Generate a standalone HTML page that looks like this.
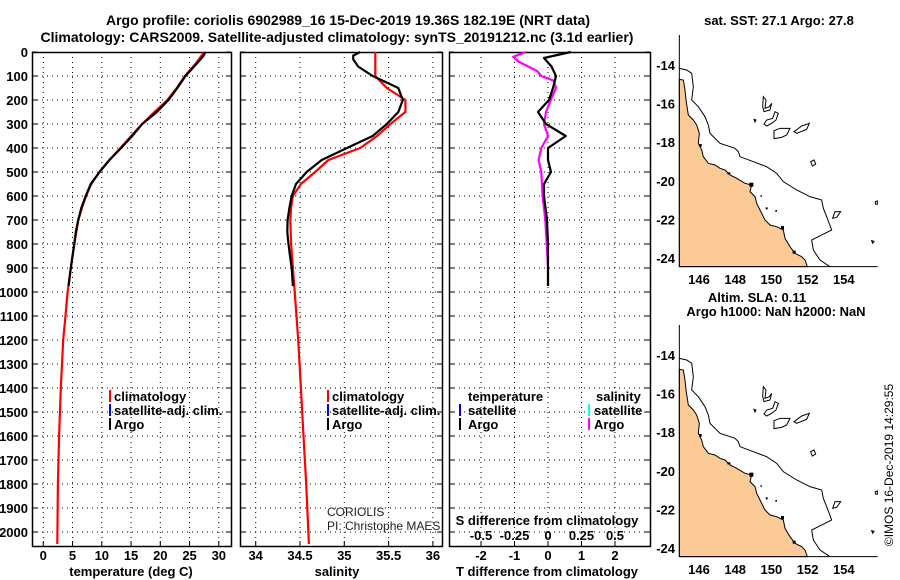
<!DOCTYPE html>
<html><head><meta charset="utf-8">
<style>
body{margin:0;background:#fff;}
svg{display:block;font-family:"Liberation Sans",sans-serif;}
.b{font-weight:bold;font-size:13px;}
.t{font-weight:bold;font-size:14px;}
</style></head><body>
<svg id="fig" width="900" height="580" viewBox="0 0 900 580" xmlns="http://www.w3.org/2000/svg">
<defs>
<g id="mapbase">
<polygon fill="#fcca96" stroke="#000" stroke-width="3" points="88,238 100,240 105,270 108,300 115,345 130,360 140,375 148,400 145,430 155,450 160,470 175,490 195,495 210,505 225,510 240,525 260,535 285,550 305,555 300,575 315,590 320,610 330,630 345,660 360,675 380,680 400,690 405,715 420,740 435,760 455,770 465,780 472,800 88,800"/>
<polyline fill="none" stroke="#000" stroke-width="3" points="88,205 110,210 125,220 130,260 125,300 145,320 165,350 175,375 180,400 210,430 255,445 265,455 270,470 310,485 350,500 380,520 400,545 440,570 480,590 515,600 520,625 530,650 545,690 525,700 485,720 490,750 510,780 540,800"/>
<g fill="none" stroke="#000" stroke-width="3">
<path d="M340,290 L348,300 L345,325 L358,320 L365,310 L360,330 L342,335 L338,320Z"/>
<path d="M375,335 L385,340 L378,360 L365,370 L350,378 L342,372 L350,360 L368,355Z"/>
<path d="M372,392 L390,385 L420,385 L410,405 L395,412 L372,416Z"/>
<path d="M432,395 L455,378 L478,370 L470,388 L440,400Z"/>
<path d="M482,485 L492,480 L497,492 L487,498Z"/>
<path d="M548,655 L555,635 L572,635 L560,652Z"/>
<path d="M676,605 L682,603 L682,613 L676,612Z"/>
<path d="M665,722 L672,724 L668,730Z"/>
<path d="M312,358 L318,360 L315,366Z"/>
</g>
<g fill="#000"><rect x="148" y="432" width="7" height="8"/><rect x="232" y="517" width="9" height="6"/><rect x="298" y="548" width="12" height="12"/><rect x="393" y="678" width="9" height="10"/><rect x="428" y="752" width="9" height="9"/><rect x="347" y="622" width="6" height="6"/><rect x="376" y="630" width="5" height="5"/><rect x="331" y="586" width="5" height="4"/></g>
<polyline fill="none" stroke="#000" stroke-width="3" points="88,800 683,800"/>
<polyline fill="none" stroke="#000" stroke-width="3" points="88,105 88,800"/>
</g>
</defs>

<text class="t" x="348" y="25" text-anchor="middle">Argo profile: coriolis 6902989_16 15-Dec-2019 19.36S 182.19E (NRT data)</text>
<text class="t" x="337" y="42" text-anchor="middle">Climatology: CARS2009. Satellite-adjusted climatology: synTS_20191212.nc (3.1d earlier)</text>

<g id="frames"></g>
<g id="lines"></g>

<g class="b">
<rect x="109" y="390" width="2" height="12" fill="#f00"/><text x="114" y="401">climatology</text>
<rect x="109" y="404" width="2" height="12" fill="#00f"/><text x="114" y="415">satellite-adj. clim.</text>
<rect x="109" y="418" width="2" height="12" fill="#000"/><text x="114" y="429">Argo</text>
</g>
<g class="b">
<rect x="327" y="390" width="2" height="12" fill="#f00"/><text x="332" y="401">climatology</text>
<rect x="327" y="404" width="2" height="12" fill="#00f"/><text x="332" y="415">satellite-adj. clim.</text>
<rect x="327" y="418" width="2" height="12" fill="#000"/><text x="332" y="429">Argo</text>
</g>
<g class="b">
<text x="468" y="401">temperature</text><text x="596" y="401">salinity</text>
<rect x="459" y="404" width="2" height="12" fill="#00f"/><text x="468" y="415">satellite</text>
<rect x="588" y="404" width="2" height="12" fill="#0ff"/><text x="594" y="415">satellite</text>
<rect x="459" y="418" width="2" height="12" fill="#000"/><text x="468" y="429">Argo</text>
<rect x="588" y="418" width="2" height="12" fill="#f0f"/><text x="594" y="429">Argo</text>
</g>
<text x="327" y="516" font-size="12" fill="#222">CORIOLIS</text>
<text x="327" y="530" font-size="12" fill="#222">PI: Christophe MAES</text>
<text class="b" x="547" y="525" text-anchor="middle">S difference from climatology</text>

<text class="b" x="131" y="576" text-anchor="middle">temperature (deg C)</text>
<text class="b" x="337" y="576" text-anchor="middle">salinity</text>
<text class="b" x="547" y="576" text-anchor="middle">T difference from climatology</text>

<text class="b" x="779" y="25" text-anchor="middle">sat. SST: 27.1 Argo: 27.8</text>
<g transform="translate(650,0) scale(0.33333)"><use href="#mapbase"/></g>
<text class="b" x="757" y="302" text-anchor="middle">Altim. SLA: 0.11</text>
<text class="b" x="776" y="316" text-anchor="middle">Argo h1000: NaN h2000: NaN</text>
<g transform="translate(650,290) scale(0.33333)"><use href="#mapbase"/></g>
<g id="maplabels" class="b"></g>
<text x="893" y="465" font-size="12" fill="#000" text-anchor="middle" transform="rotate(-90 893 465)">©IMOS 16-Dec-2019 14:29:55</text>
</svg>

<script>
// ---- data ----
const depthTicks=[0,100,200,300,400,500,600,700,800,900,1000,1100,1200,1300,1400,1500,1600,1700,1800,1900,2000];
const tempTicks=[0,5,10,15,20,25,30];
const salTicks=[34,34.5,35,35.5,36];
const salTickLabels=["34","34.5","35","35.5","36"];
const tdiffTicks=[-2,-1,0,1,2];
const sdiffTicks=[-0.5,-0.25,0,0.25,0.5];
const sdiffTickLabels=["-0.5","-0.25","0","0.25","0.5"];
const argoDepth=[0,15,30,60,100,150,200,250,300,350,400,450,500,550,600,650,700,750,800,850,900,950,975];
const argoTemp=[27.7,27.4,26.9,25.8,24.3,22.9,21.4,19.4,16.9,15.2,13.3,11.3,9.6,8.1,7.25,6.5,5.96,5.56,5.3,5.0,4.7,4.45,4.3];
const argoSal=[35.18,35.10,35.10,35.155,35.32,35.61,35.66,35.61,35.48,35.32,35.03,34.745,34.576,34.455,34.406,34.38,34.36,34.357,34.37,34.387,34.406,34.415,34.42];
const climDepth=[0,50,100,150,200,250,300,350,400,450,500,550,600,650,700,800,900,1000,1100,1200,1400,1600,1800,2050];
const climTemp=[27.5,26.0,24.2,22.8,21.2,19.0,16.9,15.0,13.2,11.3,9.6,8.2,7.3,6.6,6.0,5.3,4.7,4.16,3.8,3.4,3.0,2.7,2.5,2.4];
const climSal=[35.35,35.35,35.35,35.48,35.69,35.69,35.52,35.37,35.18,34.82,34.67,34.51,34.42,34.40,34.39,34.40,34.42,34.44,34.46,34.48,34.51,34.54,34.57,34.60];
const tdiffDepth=[0,25,60,100,150,200,250,300,350,400,450,500,550,600,700,800,900,975];
const tdiff=[0.68,-0.12,0.1,0.24,0.15,0.03,-0.3,-0.06,0.53,0,0,0.09,-0.12,-0.12,-0.03,0,0,0];
const sdiffDepth=[0,20,40,60,80,100,120,150,200,250,300,350,400,450,500,600,700,800,900,975];
const sdiff=[-0.165,-0.26,-0.22,-0.15,-0.08,-0.05,0.045,0.06,0.02,-0.015,-0.03,0,-0.05,-0.07,-0.05,-0.04,-0.02,-0.01,0,0];
const latTicks=[-14,-16,-18,-20,-22,-24];
const lonTicks=[146,148,150,152,154];

// ---- scales ----
const Y0=52, YK=0.24, YB=546;
const yD=d=>Y0+d*YK;
const xT=t=>43.3+t*5.85;
const xS=s=>300+(s-34.5)*88.6;
const xTD=v=>548+v*33.5;
const xSD=v=>548+v*134;
const panels=[[32,231],[240,442],[449,650]];
const NS="http://www.w3.org/2000/svg";
function mk(tag,attrs,parent){const e=document.createElementNS(NS,tag);for(const k in attrs)e.setAttribute(k,attrs[k]);parent.appendChild(e);return e;}
const frames=document.getElementById('frames'), lines=document.getElementById('lines');

panels.forEach((p,i)=>{
  const g=mk('g',{},frames);
  
  
  const gx=i==0?tempTicks.map(xT):i==1?salTicks.map(xS):tdiffTicks.map(xTD);
  depthTicks.forEach(d=>{
    if(d>0) mk('line',{x1:p[0],x2:p[1],y1:yD(d),y2:yD(d),stroke:'#000','stroke-width':1,'stroke-dasharray':'1 4'},g);
    mk('line',{x1:p[0],x2:p[0]+5,y1:yD(d),y2:yD(d),stroke:'#000'},g);
    mk('line',{x1:p[1]-5,x2:p[1],y1:yD(d),y2:yD(d),stroke:'#000'},g);
  });
  gx.forEach(x=>{mk('line',{x1:x,x2:x,y1:Y0,y2:YB,stroke:'#000','stroke-dasharray':'1 4'},g);
    mk('line',{x1:x,x2:x,y1:YB-5,y2:YB,stroke:'#000'},g);});
  mk('rect',{x:p[0]+.5,y:Y0+.5,width:p[1]-p[0],height:YB-Y0,fill:'none',stroke:'#000','stroke-width':1.5},g);
});
depthTicks.forEach(d=>{const t=mk('text',{x:28,y:yD(d)+5,'text-anchor':'end','class':'b'},frames);t.textContent=d;
  
  });
function xl(arr,labs,fx,y){arr.forEach((v,i)=>{const t=mk('text',{x:fx(v),y:y,'text-anchor':'middle','class':'b'},frames);t.textContent=labs[i];
  
  });}
xl(tempTicks,tempTicks,xT,560);
xl(salTicks,salTickLabels,xS,560);
xl(tdiffTicks,tdiffTicks.map(String),xTD,560);
xl(sdiffTicks,sdiffTickLabels,xSD,540);

function line(ds,vs,fx,col,name){
  const pts=ds.map((d,i)=>fx(vs[i]).toFixed(1)+','+yD(d).toFixed(1)).join(' ');
  const e=mk('polyline',{points:pts,fill:'none',stroke:col,'stroke-width':2.2,'stroke-linejoin':'round'},lines);
  
  
}
line(climDepth,climTemp,xT,'#f00','temp-climatology-line');
line(argoDepth,argoTemp,xT,'#000','temp-argo-line');
line(climDepth,climSal,xS,'#f00','sal-climatology-line');
line(argoDepth,argoSal,xS,'#000','sal-argo-line');
line(sdiffDepth,sdiff,xSD,'#f0f','sdiff-argo-line');
line(tdiffDepth,tdiff,xTD,'#000','tdiff-argo-line');

const ml=document.getElementById('maplabels');
const yLat=l=>65+(-14-l)*19.3, xLon=l=>699+(l-146)*18.1;
[0,290].forEach(off=>{
  latTicks.forEach(l=>{const t=mk('text',{x:675,y:off+yLat(l)+5,'text-anchor':'end'},ml);t.textContent=l;
    
    });
  lonTicks.forEach(l=>{const t=mk('text',{x:xLon(l),y:off+284,'text-anchor':'middle'},ml);t.textContent=l;
    
    });
});
</script>
</body></html>
